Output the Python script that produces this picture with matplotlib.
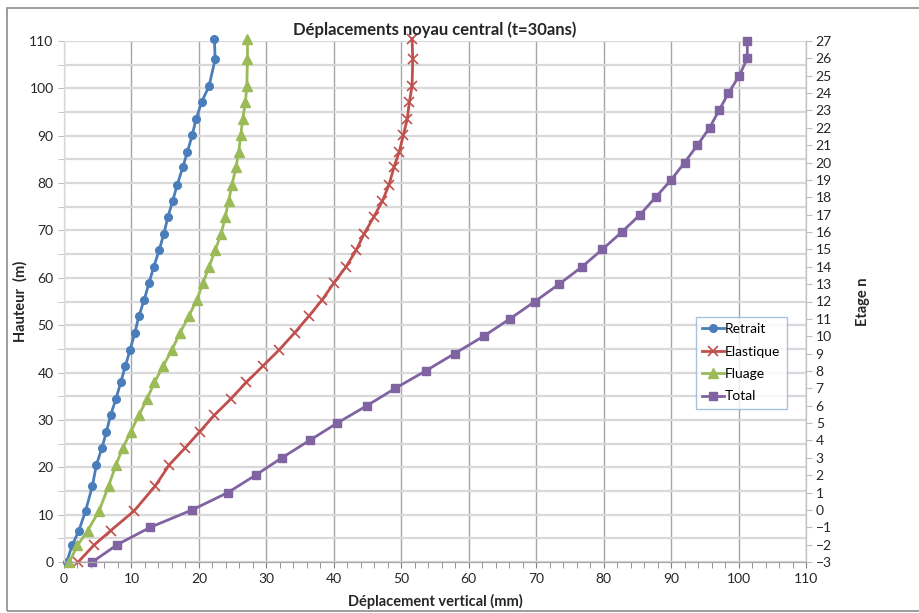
import matplotlib
matplotlib.use("Agg")
import matplotlib.pyplot as plt
from matplotlib.patches import Rectangle
from matplotlib.ticker import MultipleLocator

plt.rcParams["font.family"] = ["Lato", "DejaVu Sans"]

# heights (m) of the levels where the core displacement is computed
hauteur = [0, 3.5, 6.6, 10.8, 16.0, 20.5, 24.0, 27.5, 31.0, 34.4, 37.9,
           41.4, 44.8, 48.4, 51.9, 55.4, 58.9, 62.3, 65.8, 69.3, 72.8,
           76.2, 79.7, 83.3, 86.6, 90.1, 93.6, 97.1, 100.5, 106.1, 110.5]
etage = list(range(-3, 28))

# vertical displacements (mm), one value per level, bottom to top
retrait = [0.4, 1.2, 2.2, 3.2, 4.2, 4.8, 5.6, 6.3, 6.9, 7.7, 8.4,
           9.1, 9.8, 10.5, 11.1, 11.9, 12.6, 13.3, 14.1, 14.8, 15.4,
           16.1, 16.8, 17.6, 18.3, 19.0, 19.6, 20.4, 21.5, 22.4, 22.3]
elastique = [2.1, 4.4, 6.9, 10.4, 13.5, 15.6, 17.9, 20.1, 22.3, 24.7, 27.0,
             29.5, 31.9, 34.2, 36.3, 38.3, 40.0, 41.8, 43.3, 44.5, 45.9,
             47.2, 48.2, 48.9, 49.7, 50.3, 50.9, 51.2, 51.6, 51.7, 51.6]
fluage = [0.8, 2.0, 3.5, 5.2, 6.6, 7.7, 8.7, 9.9, 11.1, 12.3, 13.4,
          14.7, 16.0, 17.2, 18.5, 19.7, 20.6, 21.5, 22.4, 23.3, 23.9,
          24.4, 24.9, 25.5, 25.9, 26.2, 26.5, 26.9, 27.1, 27.2, 27.2]
total = [4.2, 7.9, 12.8, 19.0, 24.3, 28.4, 32.3, 36.4, 40.5, 44.9, 49.1,
         53.6, 57.9, 62.2, 66.1, 69.8, 73.4, 76.8, 79.8, 82.7, 85.4,
         87.7, 90.0, 92.0, 93.9, 95.7, 97.1, 98.5, 100.1, 101.3, 101.3]

BLUE = "#4a7ebb"
RED = "#c0504d"
GREEN = "#9bbb59"
PURPLE = "#8064a2"
TXT = "#262626"

fig = plt.figure(figsize=(9.19, 6.13), dpi=100)
fig.patches.append(Rectangle((7 / 919, 2 / 613), 1.0, 603 / 613,
                             transform=fig.transFigure, fill=False,
                             edgecolor="#8c8c8c", linewidth=1.2))

ax = fig.add_axes([64 / 919, 51 / 613, 742 / 919, 521 / 613])
ax2 = ax.twinx()

ax.plot(retrait, hauteur, "-o", color=BLUE, lw=2, ms=5.5, label="Retrait", clip_on=False)
ax.plot(elastique, hauteur, "-x", color=RED, lw=2, ms=7, mew=1.2, label="Elastique", clip_on=False)
ax.plot(fluage, hauteur, "-^", color=GREEN, lw=2, ms=7, label="Fluage", clip_on=False)
ax2.plot(total, etage, "-s", color=PURPLE, lw=2, ms=5.5, label="Total", clip_on=False)

ax.set_xlim(0, 110)
ax.set_ylim(0, 110)
ax2.set_ylim(-3, 27)

ax.xaxis.set_major_locator(MultipleLocator(10))
ax.xaxis.set_minor_locator(MultipleLocator(2))
ax.yaxis.set_major_locator(MultipleLocator(10))
ax.yaxis.set_minor_locator(MultipleLocator(5))
ax2.yaxis.set_major_locator(MultipleLocator(1))

ax.grid(True, which="major", axis="x", color="#a6a6a6", lw=1)
ax.grid(True, which="both", axis="y", color="#d9d9d9", lw=1.6)
ax.set_axisbelow(True)

for a in (ax, ax2):
    a.spines["top"].set_visible(False)
    a.spines["left"].set_color("#d9d9d9")
    a.spines["right"].set_color("#bfbfbf")
    a.spines["bottom"].set_color("#a6a6a6")
ax.tick_params(axis="x", which="both", direction="out", length=4, color="#808080",
               labelsize=10, labelcolor=TXT, pad=4)
ax.tick_params(axis="y", which="both", direction="out", length=4, color="#bfbfbf",
               labelsize=10, labelcolor=TXT)
ax2.tick_params(axis="y", direction="out", length=4, color="#bfbfbf",
                labelsize=10, labelcolor=TXT, pad=3)

ax.set_xlabel("Déplacement vertical (mm)", fontsize=10.5, fontweight="bold",
              color=TXT, labelpad=6)
ax.set_ylabel("Hauteur  (m)", fontsize=10.5, fontweight="bold", color=TXT, labelpad=1)
ax2.set_ylabel("Etage n", fontsize=10.5, fontweight="bold", color=TXT,
               rotation=90, labelpad=17)
ax.set_title("Déplacements noyau central (t=30ans)", fontsize=12, fontweight="bold",
             color=TXT, pad=4)

handles = ax.get_legend_handles_labels()[0] + ax2.get_legend_handles_labels()[0]
leg = ax2.legend(handles=handles, loc="upper left",
                 bbox_to_anchor=(696 / 919, 1 - 317 / 613),
                 bbox_transform=fig.transFigure, fontsize=10, frameon=True,
                 fancybox=False, edgecolor="#95b3d7", handlelength=1.6,
                 handletextpad=0.05, borderpad=0.45, borderaxespad=0,
                 labelspacing=0.75)
leg.get_frame().set_linewidth(1)

fig.savefig("out.png", dpi=100)
